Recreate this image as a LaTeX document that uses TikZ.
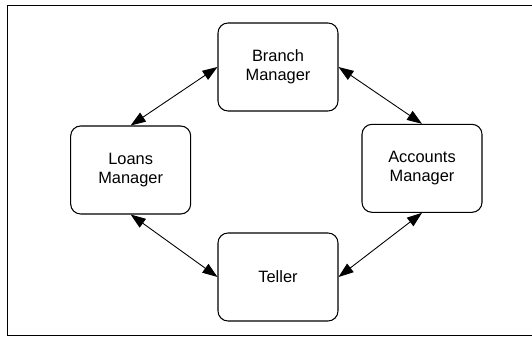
\documentclass[tikz,border=0pt]{standalone}
\usepackage{fontspec}
\setmainfont{Liberation Sans}
\usepackage{tikz}
\usetikzlibrary{shapes,arrows.meta,positioning,calc}
\usepackage{xcolor}

\tikzset{
  role/.style={draw, rounded corners=0.3cm, minimum width=3.6cm, minimum height=2.64cm,
    align=center, inner sep=0pt, line width=0.9pt, font=\fontsize{14}{16.5}\selectfont},
  talk/.style={{Triangle[length=0.45cm,width=0.32cm]}-{Triangle[length=0.45cm,width=0.32cm]}, line width=0.75pt}
}

\begin{document}
\begin{tikzpicture}

\useasboundingbox (0,0) rectangle (15.96,10.11);

% Frame (open on the right)
\draw[line width=0.8pt] (15.96,9.96) -- (0.21,9.96) -- (0.21,0.06) -- (15.96,0.06);

% Roles
\node[role] (branch) at (8.34, 8.10) {Branch\\Manager};
\node[role] (loans) at (3.92, 5.01) {Loans\\Manager};
\node[role] (accounts) at (12.66, 5.06) {Accounts\\Manager};
\node[role] (teller) at (8.34, 1.80) {Teller};

% Links
\draw[talk] (loans.north) -- (branch.west);
\draw[talk] (branch.east) -- (accounts.north);
\draw[talk] (loans.south) -- (teller.west);
\draw[talk] (accounts.south) -- (teller.east);

\end{tikzpicture}
\end{document}
